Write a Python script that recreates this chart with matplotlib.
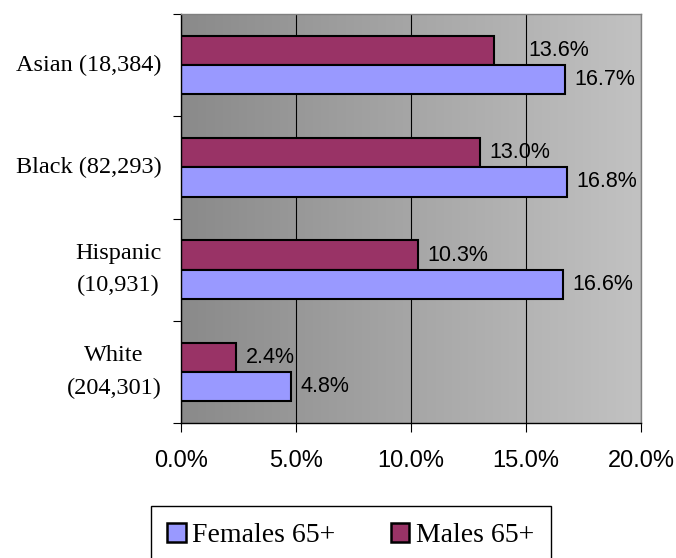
import numpy as np
import matplotlib
matplotlib.use("Agg")
import matplotlib.pyplot as plt
from matplotlib.patches import Patch
from matplotlib.colors import LinearSegmentedColormap

# data
categories = ["Asian (18,384)", "Black (82,293)", "Hispanic\n(10,931)", "White\n(204,301)"]
females = [16.7, 16.8, 16.6, 4.8]
males = [13.6, 13.0, 10.3, 2.4]
xticks = [0, 5, 10, 15, 20]

female_color = "#9999ff"
male_color = "#993366"

# label placement (Excel put the Asian male label further right)
male_nudge = [1.5, 0.4, 0.4, 0.4]
female_nudge = [0.4, 0.4, 0.4, 0.4]

fig = plt.figure(figsize=(6.76, 5.58), dpi=100)
ax = fig.add_axes([181 / 676, 135 / 558, 460 / 676, 409 / 558])

# gradient background
cmap = LinearSegmentedColormap.from_list("bg", ["#8a8a8a", "#c2c2c2"])
grad = np.linspace(0, 1, 256).reshape(1, -1)
ax.imshow(grad, extent=[0, 20, -0.5, 3.5], aspect="auto", cmap=cmap, zorder=0)

y = np.arange(len(categories))
h = 0.285
ax.barh(y - h / 2, males, height=h, color=male_color, edgecolor="black", linewidth=1.5, zorder=3)
ax.barh(y + h / 2, females, height=h, color=female_color, edgecolor="black", linewidth=1.5, zorder=3)

for yi, v, n in zip(y, males, male_nudge):
    ax.text(v + n, yi - h / 2, f"{v:.1f}%", va="center", ha="left",
            fontsize=15.5, family="Liberation Sans", zorder=4)
for yi, v, n in zip(y, females, female_nudge):
    ax.text(v + n, yi + h / 2, f"{v:.1f}%", va="center", ha="left",
            fontsize=15.5, family="Liberation Sans", zorder=4)

ax.set_xlim(0, 20)
ax.set_ylim(3.5, -0.5)
ax.set_xticks(xticks)
ax.set_xticklabels([f"{t:.1f}%" for t in xticks], family="Liberation Sans", fontsize=17)
ax.xaxis.grid(True, color="black", linewidth=0.8, zorder=1)
ax.set_axisbelow(True)

ax.set_yticks(y)
ax.set_yticklabels(categories, family="Liberation Serif", fontsize=17.5, ha="right",
                   va="center", ma="center", linespacing=1.7)
ax.tick_params(axis="y", which="major", length=0, pad=14)
ax.set_yticks(np.arange(-0.5, 4, 1), minor=True)
ax.tick_params(axis="y", which="minor", length=6, width=0.8)
ax.tick_params(axis="x", length=6.5, width=0.8, pad=13)

ax.spines["top"].set_color("#808080")
ax.spines["right"].set_color("#808080")
for s in ax.spines.values():
    s.set_linewidth(1.0)
    s.set_zorder(5)

handles = [Patch(facecolor=female_color, edgecolor="black", linewidth=1.8, label="Females 65+"),
           Patch(facecolor=male_color, edgecolor="black", linewidth=1.8, label="Males 65+")]
leg = fig.legend(handles=handles, loc="upper center", bbox_to_anchor=(351 / 676, 1 - 506 / 558),
                 ncol=2, fancybox=False, framealpha=1, edgecolor="black",
                 prop={"family": "Liberation Serif", "size": 20},
                 handlelength=0.65, handleheight=0.72, handletextpad=0.25, columnspacing=2.0,
                 borderpad=0.6, borderaxespad=0)
leg.get_frame().set_linewidth(1.0)

fig.savefig("out.png", dpi=100)
